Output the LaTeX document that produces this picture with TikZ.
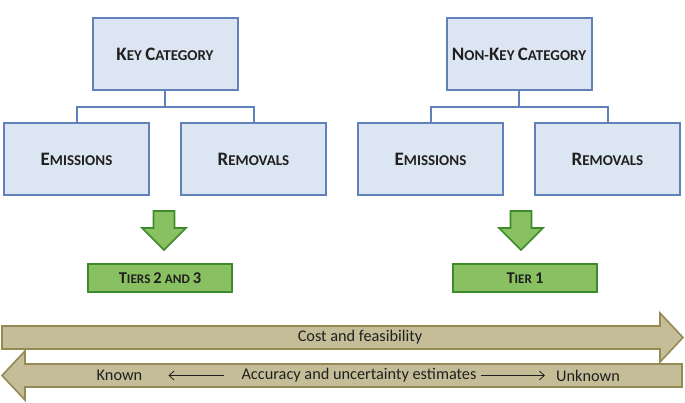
\documentclass[tikz,border=0pt]{standalone}
\usepackage{fontspec}
\setmainfont{Carlito}
\usetikzlibrary{positioning,arrows.meta}
\definecolor{boxfill}{RGB}{220,230,242}
\definecolor{boxline}{RGB}{96,130,184}
\definecolor{grfill}{RGB}{136,192,98}
\definecolor{grline}{RGB}{60,140,42}
\definecolor{tanfill}{RGB}{196,189,151}
\definecolor{tanline}{RGB}{148,138,84}
\definecolor{txt}{RGB}{32,32,32}
\newcommand\bigsc[1]{{\fontsize{19}{22}\selectfont #1}}
\newcommand\smsc[1]{{\fontsize{15}{18}\selectfont #1}}
\newcommand\tbig[1]{{\fontsize{16.5}{19}\selectfont #1}}
\newcommand\tsm[1]{{\fontsize{13.2}{16}\selectfont #1}}
\tikzset{
  bluebox/.style={draw=boxline, fill=boxfill, line width=2pt, minimum width=145pt, minimum height=72pt, inner sep=0pt, text=txt, font=\bfseries\fontsize{15}{18}\selectfont},
  greenbox/.style={draw=grline, fill=grfill, line width=2pt, minimum width=144pt, minimum height=28pt, inner sep=0pt, text=txt, font=\bfseries\fontsize{13.2}{16}\selectfont},
  conn/.style={draw=boxline, line width=2pt},
  grarrow/.style={draw=grline, fill=grfill, line width=1.6pt, line join=miter},
  tanarrow/.style={draw=tanline, fill=tanfill, line width=1.6pt, line join=miter},
  lbl/.style={font=\fontsize{16.3}{19}\selectfont, text=txt, inner sep=2pt},
  thinarrow/.style={-{Straight Barb[length=5pt,width=9pt,line width=0.8pt]}, line width=0.8pt, draw=txt},
}
\begin{document}
\begin{tikzpicture}[x=1pt,y=-1pt]
\useasboundingbox (0,0) rectangle (685,402);
% left group
\node[bluebox] (kc) at (165,54) {\bigsc{K}\smsc{EY} \bigsc{C}\smsc{ATEGORY}};
\node[bluebox] (em1) at (76.5,159) {\bigsc{E}\smsc{MISSIONS}};
\node[bluebox] (rm1) at (253.5,159) {\bigsc{R}\smsc{EMOVALS}};
\draw[conn] (kc.south) -- ++(0,16) coordinate (j1) -| (em1.north);
\draw[conn] (j1) -| (rm1.north);
\draw[grarrow] (153.5,211) -- (174.5,211) -- (174.5,228) -- (186,228) -- (164,250) -- (142,228) -- (153.5,228) -- cycle;
\node[greenbox] (t23) at (160,278) {\tbig{T}\tsm{IERS} \tbig{2} \tsm{AND} \tbig{3}};
% right group
\node[bluebox] (nkc) at (519,54) {\bigsc{N}\smsc{ON-}\bigsc{K}\smsc{EY} \bigsc{C}\smsc{ATEGORY}};
\node[bluebox] (em2) at (430.5,159) {\bigsc{E}\smsc{MISSIONS}};
\node[bluebox] (rm2) at (607.5,159) {\bigsc{R}\smsc{EMOVALS}};
\draw[conn] (nkc.south) -- ++(0,16) coordinate (j2) -| (em2.north);
\draw[conn] (j2) -| (rm2.north);
\draw[grarrow] (510.5,211) -- (531.5,211) -- (531.5,228) -- (543,228) -- (521,250) -- (499,228) -- (510.5,228) -- cycle;
\node[greenbox] (t1) at (525,278) {\tbig{T}\tsm{IER} \tbig{1}};
% tan arrows
\draw[tanarrow] (2,326) -- (660,326) -- (660,313) -- (683,337.5) -- (660,362) -- (660,349) -- (2,349) -- cycle;
\draw[tanarrow] (682,364) -- (25,364) -- (25,351) -- (2,375.5) -- (25,400) -- (25,387) -- (682,387) -- cycle;
\node[lbl] (cost) at (360,337.5) {Cost and feasibility};
\node[lbl] (acc) at (359,375.5) {Accuracy and uncertainty estimates};
\node[lbl] (known) at (119.5,375.5) {Known};
\node[lbl] (unk) at (588,375.5) {Unknown};
\draw[thinarrow, shorten <=15pt, shorten >=24pt] (acc.west) -- (known.east);
\draw[thinarrow, shorten <=2pt, shorten >=9pt] (acc.east) -- (unk.west);
\end{tikzpicture}
\end{document}
